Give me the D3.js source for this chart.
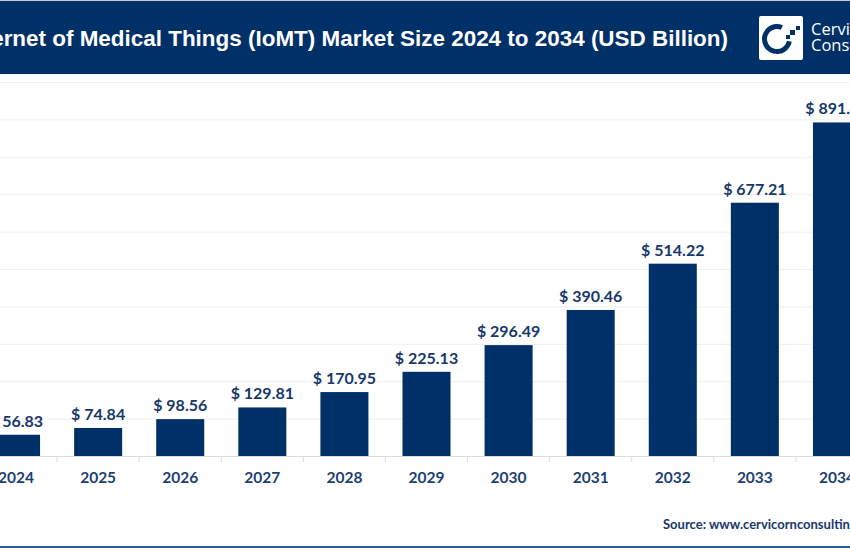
<!DOCTYPE html>
<html>
<head>
<meta charset="utf-8">
<script src="https://d3js.org/d3.v7.min.js"></script>
<style>
html, body { margin: 0; padding: 0; background: #fff; overflow: hidden; }
svg { display: block; }
.val { font: bold 16px Lato, sans-serif; fill: #17386b; text-anchor: middle; }
.xaxis text { font: bold 15.5px Lato, sans-serif; fill: #1d3f73; }
</style>
</head>
<body>
<div id="chart"></div>
<script>
var years = ["2024","2025","2026","2027","2028","2029","2030","2031","2032","2033","2034"];
var marketSize = [56.83,74.84,98.56,129.81,170.95,225.13,296.49,390.46,514.22,677.21,891.92];
var yTicks = [0,100,200,300,400,500,600,700,800,900,1000];

var navy = "#003068";

var svg = d3.select("#chart").append("svg")
    .attr("width", 850)
    .attr("height", 550);

var x = d3.scaleBand()
    .domain(years)
    .range([-25, 878])
    .paddingInner(0.415)
    .paddingOuter(0.2075);

var y = d3.scaleLinear()
    .domain([0, 1000])
    .range([456, 82]);

// gridlines
var grid = svg.append("g")
    .attr("transform", "translate(-25,0)")
    .call(d3.axisRight(y).tickValues(yTicks).tickSize(903).tickFormat(""));
grid.select(".domain").remove();
grid.selectAll("line").attr("stroke", "#efefef").attr("stroke-width", 1);

// bars
svg.selectAll(".bar")
    .data(years)
    .enter().append("rect")
    .attr("class", "bar")
    .attr("x", function(d) { return x(d); })
    .attr("width", x.bandwidth())
    .attr("y", function(d, i) { return y(marketSize[i]); })
    .attr("height", function(d, i) { return y(0) - y(marketSize[i]); })
    .attr("fill", navy);

// value labels
svg.selectAll(".val")
    .data(years)
    .enter().append("text")
    .attr("class", "val")
    .attr("x", function(d) { return x(d) + x.bandwidth() / 2; })
    .attr("y", function(d, i) { return y(marketSize[i]) - 8; })
    .text(function(d, i) { return "$ " + marketSize[i].toFixed(2); });

// x axis
var xAxis = svg.append("g")
    .attr("class", "xaxis")
    .attr("transform", "translate(0," + y(0) + ")")
    .call(d3.axisBottom(x).tickSize(0).tickPadding(16));
xAxis.select(".domain").attr("stroke", "#dcdcdc");

// ticks sit between the categories
svg.selectAll(".sep")
    .data(years)
    .enter().append("line")
    .attr("class", "sep")
    .attr("x1", function(d) { return x(d) - x.step() * x.paddingInner() / 2; })
    .attr("x2", function(d) { return x(d) - x.step() * x.paddingInner() / 2; })
    .attr("y1", y(0))
    .attr("y2", y(0) + 6)
    .attr("stroke", "#dcdcdc");

// header band
svg.append("rect").attr("x", 0).attr("y", 0).attr("width", 850).attr("height", 1).attr("fill", "#c4c9d2");
svg.append("rect").attr("x", 0).attr("y", 1).attr("width", 850).attr("height", 73).attr("fill", navy);

svg.append("text")
    .attr("x", 728)
    .attr("y", 46)
    .attr("text-anchor", "end")
    .attr("fill", "#fff")
    .style("font", "bold 22.45px 'Liberation Sans', Arial, sans-serif")
    .text("Internet of Medical Things (IoMT) Market Size 2024 to 2034 (USD Billion)");

// logo
svg.append("rect")
    .attr("x", 759).attr("y", 16).attr("width", 44).attr("height", 44).attr("rx", 2)
    .attr("fill", "#fff");

var arc = d3.arc().innerRadius(10).outerRadius(15);
svg.append("path")
    .attr("transform", "translate(777,39)")
    .attr("d", arc({ startAngle: 1.75, endAngle: 2 * Math.PI + 0.4 }))
    .attr("fill", navy);

var dots = [[796, 26, 4], [790, 30, 5], [786, 35, 4]];
svg.selectAll(".logodot")
    .data(dots)
    .enter().append("rect")
    .attr("class", "logodot")
    .attr("x", function(d) { return d[0]; })
    .attr("y", function(d) { return d[1]; })
    .attr("width", function(d) { return d[2]; })
    .attr("height", function(d) { return d[2]; })
    .attr("fill", navy);

svg.append("text").attr("x", 811).attr("y", 35).attr("fill", "#fff")
    .style("font", "16.5px 'Open Sans', sans-serif").text("Cervicorn");
svg.append("text").attr("x", 811).attr("y", 51).attr("fill", "#fff")
    .style("font", "16.5px 'Open Sans', sans-serif").text("Consulting");

// source + footer rule
svg.append("text")
    .attr("x", 663)
    .attr("y", 529)
    .attr("fill", "#17386b")
    .style("font", "bold 13px Lato, sans-serif")
    .text("Source: www.cervicornconsulting.com");

svg.append("rect").attr("x", 0).attr("y", 546).attr("width", 850).attr("height", 2).attr("fill", "#2f5c94");
</script>
</body>
</html>
